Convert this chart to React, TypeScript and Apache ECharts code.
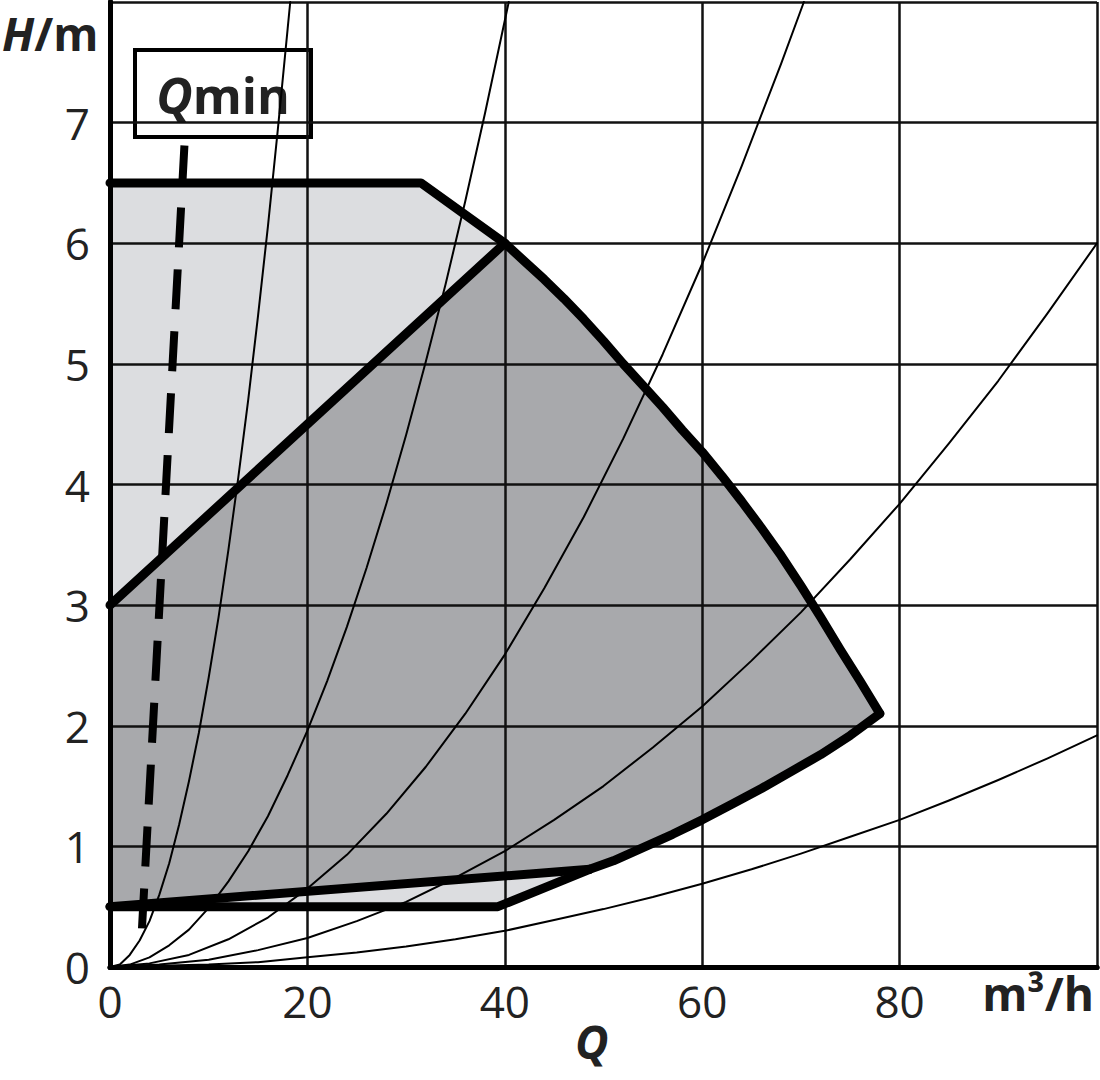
import React, { useEffect, useRef } from 'react';
import * as echarts from 'echarts';

// ---------- data ----------
const xTickLabels = ['0', '20', '40', '60', '80', ''];
const yTickLabels = ['0', '1', '2', '3', '4', '5', '6', '7', ''];

// System (resistance) curves, Q [m3/h] vs H [m]
const systemCurve1 = [[0, 0], [1, 0.02], [2, 0.1], [3, 0.22], [4, 0.38], [5, 0.6], [6, 0.86], [7, 1.18], [8, 1.54], [9, 1.94], [10, 2.4], [11, 2.9], [12, 3.46], [13, 4.06], [14, 4.7], [15, 5.4], [16, 6.14], [17, 6.94], [18, 7.78], [18.26, 8]];
const systemCurve2 = [[0, 0], [2, 0.02], [4, 0.08], [6, 0.18], [8, 0.31], [10, 0.49], [12, 0.71], [14, 0.96], [16, 1.25], [18, 1.59], [20, 1.96], [22, 2.37], [24, 2.82], [26, 3.31], [28, 3.84], [30, 4.41], [32, 5.02], [34, 5.66], [36, 6.35], [38, 7.08], [40.4, 8]];
const systemCurve3 = [[0, 0], [4, 0.03], [8, 0.1], [12, 0.23], [16, 0.41], [20, 0.65], [24, 0.93], [28, 1.27], [32, 1.66], [36, 2.1], [40, 2.59], [44, 3.14], [48, 3.73], [52, 4.38], [56, 5.08], [60, 5.83], [64, 6.64], [68, 7.49], [70.3, 8]];
const systemCurve4 = [[0, 0], [5, 0.02], [10, 0.06], [15, 0.14], [20, 0.24], [25, 0.38], [30, 0.54], [35, 0.74], [40, 0.96], [45, 1.22], [50, 1.5], [55, 1.82], [60, 2.16], [65, 2.54], [70, 2.94], [75, 3.38], [80, 3.84], [85, 4.34], [90, 4.86], [95, 5.42], [100, 6.0]];
const systemCurve5 = [[0, 0], [5, 0.01], [10, 0.02], [15, 0.04], [20, 0.08], [25, 0.12], [30, 0.17], [35, 0.23], [40, 0.3], [45, 0.39], [50, 0.48], [55, 0.58], [60, 0.69], [65, 0.81], [70, 0.94], [75, 1.08], [80, 1.22], [85, 1.38], [90, 1.55], [95, 1.73], [100, 1.92]];

// Envelope of the operating field
const topEdge = [[0, 6.5], [31.5, 6.5], [40, 6.0]];
const maxCurve = [[40, 6.0], [42, 5.85], [44, 5.7], [46, 5.54], [48, 5.37], [50, 5.19], [52, 5.0], [54, 4.82], [56, 4.64], [58, 4.45], [60, 4.27], [62, 4.07], [64, 3.86], [66, 3.64], [68, 3.41], [70, 3.16], [72, 2.9], [74, 2.63], [76, 2.37], [78, 2.1]];
const lowerCurve = [[48.6, 0.81], [51, 0.88], [54, 0.99], [57, 1.1], [60, 1.22], [63, 1.35], [66, 1.48], [69, 1.62], [72, 1.76], [75, 1.92], [78, 2.1]];
const lightBottom = [[0, 0.5], [39.3, 0.5], [48.6, 0.81]];
const darkTop = [[0, 3.0], [40, 6.0]];
const darkBottom = [[0, 0.5], [48.6, 0.81]];

// Qmin limit line
const qminLine = [[3.24, 0.32], [7.6, 6.9]];

const lightPoly = [
  ...topEdge,
  ...maxCurve.slice(1),
  ...lowerCurve.slice().reverse().slice(1),
  ...lightBottom.slice().reverse().slice(1),
];
const darkPoly = [
  ...darkTop,
  ...maxCurve.slice(1),
  ...lowerCurve.slice().reverse().slice(1),
  ...darkBottom.slice().reverse().slice(1),
];

const FONT = "'Open Sans', 'Noto Sans', sans-serif";

function polySeries(points: number[][], fill: string) {
  return {
    type: 'custom',
    data: points,
    encode: { x: 0, y: 1 },
    z: 1,
    silent: true,
    clip: true,
    renderItem: (params: any, api: any) => {
      if (params.dataIndex !== 0) return null;
      const pts = points.map((p) => api.coord(p));
      return { type: 'polygon', shape: { points: pts }, style: { fill, stroke: 'none' } };
    },
  };
}

function lineSeries(data: number[][], width: number, z: number, smooth: boolean | number = false, dash: any = 'solid') {
  return {
    type: 'line',
    data,
    z,
    silent: true,
    symbol: 'none',
    smooth,
    lineStyle: { color: '#000', width, type: dash, cap: dash === 'solid' ? 'round' : 'butt', join: 'round' },
  };
}

export default function App() {
  const ref = useRef<HTMLDivElement>(null);
  useEffect(() => {
    document.body.style.margin = '0';
    const chart = echarts.init(ref.current!, undefined, { renderer: 'svg' });
    const axisText = { fontFamily: FONT, fontSize: 44, color: '#222' };
    chart.setOption({
      animation: false,
      backgroundColor: '#fff',
      grid: { left: 110, right: 3, top: 2, bottom: 113, containLabel: false },
      xAxis: [
        {
          type: 'value', min: 0, max: 100, interval: 20, z: 3,
          axisLine: { show: true, onZero: false, lineStyle: { color: '#000', width: 5 } },
          axisTick: { show: false },
          splitLine: { show: true, lineStyle: { color: '#111', width: 2.5 } },
          axisLabel: {
            ...axisText, margin: 12, showMaxLabel: true,
            formatter: (v: number) => xTickLabels[Math.round(v / 20)] ?? '',
          },
        },
        {
          type: 'value', min: 0, max: 100, position: 'top', z: 3,
          axisLine: { show: true, lineStyle: { color: '#000', width: 5 } },
          axisTick: { show: false }, axisLabel: { show: false }, splitLine: { show: false },
        },
      ],
      yAxis: [
        {
          type: 'value', min: 0, max: 8, interval: 1, z: 3,
          axisLine: { show: true, lineStyle: { color: '#000', width: 5 } },
          axisTick: { show: false },
          splitLine: { show: true, lineStyle: { color: '#111', width: 2.5 } },
          axisLabel: {
            ...axisText, margin: 20,
            formatter: (v: number) => yTickLabels[Math.round(v)] ?? '',
          },
        },
        {
          type: 'value', min: 0, max: 8, position: 'right', z: 3,
          axisLine: { show: true, lineStyle: { color: '#000', width: 5 } },
          axisTick: { show: false }, axisLabel: { show: false }, splitLine: { show: false },
        },
      ],
      series: [
        polySeries(lightPoly, '#dcdde0'),
        polySeries(darkPoly, '#a8a9ac'),
        lineSeries(systemCurve1, 2, 5),
        lineSeries(systemCurve2, 2, 5),
        lineSeries(systemCurve3, 2, 5),
        lineSeries(systemCurve4, 2, 5),
        lineSeries(systemCurve5, 2, 5),
        lineSeries(topEdge, 9, 6),
        lineSeries(darkTop, 9, 6),
        lineSeries(maxCurve, 9, 6),
        lineSeries(lowerCurve, 9, 6),
        lineSeries(lightBottom, 9, 6),
        lineSeries(darkBottom, 9, 6),
        lineSeries(qminLine, 8, 7, false, [40, 22]),
      ],
      graphic: [
        {
          type: 'text', left: 2, top: 10, z: 100,
          style: {
            text: '{i|H}{b|/m}',
            rich: {
              i: { fontFamily: FONT, fontSize: 46, fontWeight: 'bold', fontStyle: 'italic', fill: '#222' },
              b: { fontFamily: FONT, fontSize: 46, fontWeight: 'bold', fill: '#222' },
            },
          },
        },
        {
          type: 'text', right: 6, top: 970, z: 100,
          style: { text: 'm³/h', fontFamily: FONT, fontSize: 46, fontWeight: 'bold', fill: '#222' },
        },
        {
          type: 'text', left: 575, top: 1018, z: 100,
          style: { text: 'Q', fontFamily: FONT, fontSize: 46, fontWeight: 'bold', fontStyle: 'italic', fill: '#222' },
        },
        {
          type: 'group', left: 133, top: 48, z: 100,
          children: [
            { type: 'rect', shape: { x: 0, y: 0, width: 176, height: 87 }, style: { fill: '#fff', stroke: '#000', lineWidth: 4 } },
            {
              type: 'text', x: 88, y: 45,
              style: {
                text: '{i|Q}{b|min}', align: 'center', verticalAlign: 'middle',
                rich: {
                  i: { fontFamily: FONT, fontSize: 50, fontWeight: 'bold', fontStyle: 'italic', fill: '#222' },
                  b: { fontFamily: FONT, fontSize: 50, fontWeight: 'bold', fill: '#222' },
                },
              },
            },
          ],
        },
      ],
    });
    return () => chart.dispose();
  }, []);
  return <div ref={ref} style={{ position: 'absolute', left: 0, top: 0, width: 1100, height: 1080 }} />;
}
